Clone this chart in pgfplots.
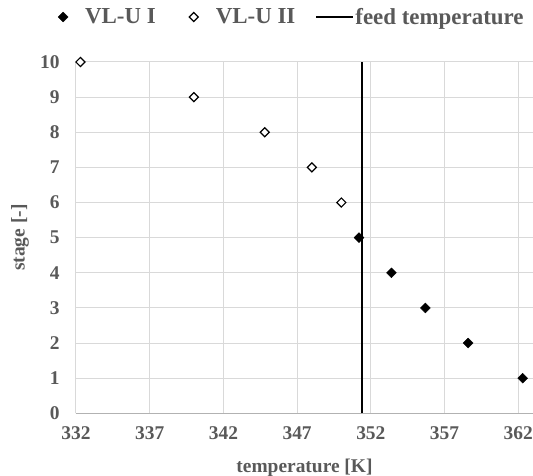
\documentclass[border=0pt]{standalone}
\usepackage{fontspec}
\setmainfont{Liberation Serif}
\usepackage{pgfplots}
\pgfplotsset{compat=1.18}
\definecolor{txt}{HTML}{595959}
\definecolor{grd}{HTML}{D9D9D9}
\newcommand{\tkfont}{\fontsize{19.5}{22}\selectfont\bfseries}
\newcommand{\lgfont}{\fontsize{23}{26}\selectfont\bfseries}
\pgfplotsset{
  markleg/.style={legend image code/.code={\path[draw=none] (-18bp,0) -- (21bp,0); \draw[##1] plot coordinates {(0bp,0bp)};}},
  lineleg/.style={legend image code/.code={\draw[##1] (0bp,0bp) -- (37bp,0bp);}},
}
\begin{document}
\begin{tikzpicture}
\useasboundingbox (-76bp,-62.7bp) rectangle (457bp,413.3bp);
\begin{axis}[
  at={(0,0)}, anchor=south west,
  scale only axis, width=457bp, height=351.3bp,
  xmin=332, xmax=363, ymin=0, ymax=10,
  xtick={332,337,...,362}, ytick={0,1,...,10},
  grid=major, major grid style={grd, line width=1bp},
  axis x line*=bottom, axis y line*=left,
  axis line style={grd, line width=1bp},
  x axis line style={color=black!30},
  tick style={draw=none},
  ticklabel style={font=\tkfont, text=txt},
  /pgf/number format/assume math mode=true,
  xticklabel style={yshift=-10bp},
  yticklabel style={xshift=-13bp},
  xlabel={temperature [K]}, ylabel={stage [-]},
  label style={font=\tkfont, text=txt},
  xlabel style={at={(0.5,0)}, anchor=center, yshift=-55bp},
  ylabel style={at={(0,0.5)}, anchor=center, rotate=0, yshift=56bp},
  legend columns=3,
  legend style={at={(0.457,1)}, anchor=center, yshift=45bp, draw=none, fill=none,
    font=\lgfont, text=txt, inner sep=0pt, nodes={inner sep=1bp},
    /tikz/every even column/.append style={column sep=19bp}},
]
\addplot[only marks, mark=square*, mark size=3.5bp, mark options={rotate=45, fill=black, draw=black}, markleg]
  coordinates {(351.2,5) (353.4,4) (355.7,3) (358.6,2) (362.3,1)};
\addlegendentry{VL-U I}
\addplot[only marks, mark=square*, mark size=3.2bp, mark options={rotate=45, fill=white, draw=black, line width=1.2bp}, markleg]
  coordinates {(332.3,10) (340.0,9) (344.8,8) (348.0,7) (350.0,6)};
\addlegendentry{VL-U II}
\addplot[black, line width=2bp, mark=none, lineleg]
  coordinates {(351.4,0) (351.4,10)};
\addlegendentry{feed temperature}
\end{axis}
\end{tikzpicture}
\end{document}
